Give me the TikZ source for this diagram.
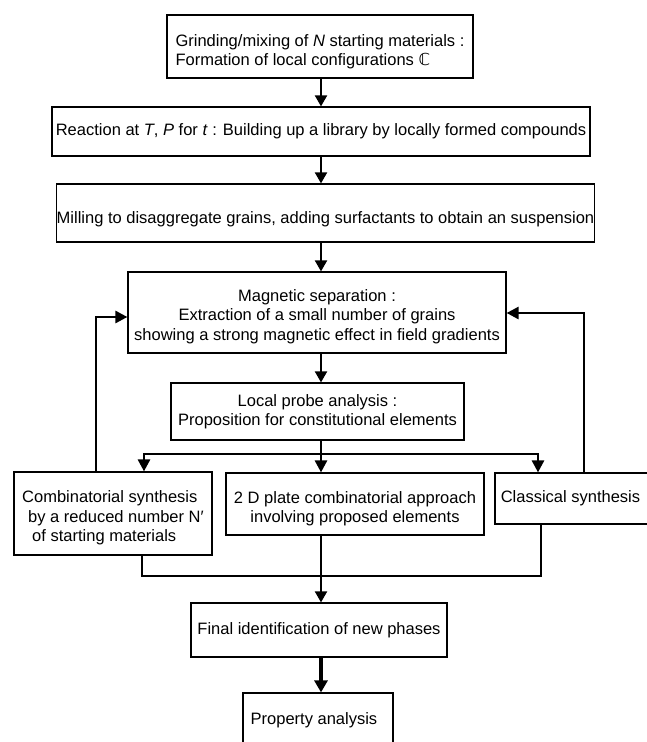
\documentclass[tikz,border=0pt]{standalone}
\usepackage{fontspec}
\setmainfont{Liberation Sans}
\newfontfamily\dejavu{DejaVu Sans}
\usetikzlibrary{arrows.meta}
\newcommand\dnc[2]{\raisebox{0pt}[\dimexpr\height+#1\relax][\depth]{\begin{tabular}{@{}c@{}}#2\end{tabular}}}
\newcommand\dnl[2]{\raisebox{0pt}[\dimexpr\height+#1\relax][\depth]{\begin{tabular}{@{}l@{}}#2\end{tabular}}}
\begin{document}
\begin{tikzpicture}[x=1pt,y=-1pt,
  box/.style={draw, line width=1.2pt, inner sep=0pt, font=\fontsize{16.5}{19.5}\selectfont},
  arr/.style={line width=2pt, -{Triangle[length=11pt,width=12pt]}},
  fat/.style={line width=2.6pt},
  fatarr/.style={line width=2.6pt, -{Triangle[length=12pt,width=12pt]}},
  bigarr/.style={line width=4pt, -{Triangle[length=12pt,width=13pt]}}]
\useasboundingbox[fill=white] (0,0) rectangle (646,742);
\coordinate (cx) at (321,0);
% boxes
\node[box, minimum width=306pt, minimum height=63pt] (b1) at (320,46.5)
  {\dnl{11pt}{Grinding/mixing of \textit{N} starting materials :\\Formation of local configurations {\dejavu ℂ}}};
\node[box, minimum width=538pt, minimum height=49pt] (b2) at (321,131.5)
  {Reaction at \textit{T}, \textit{P} for \textit{t} : Building up a library by locally formed compounds};
\node[box, minimum width=537pt, minimum height=58pt, text height=25pt] (b3) at (325.5,213)
  {Milling to disaggregate grains, adding surfactants to obtain an suspension};
\node[box, minimum width=378pt, minimum height=81pt] (b4) at (317,312.5)
  {\dnc{9pt}{Magnetic separation :\\Extraction of a small number of grains\\showing a strong magnetic effect in field gradients}};
\node[box, minimum width=293pt, minimum height=57pt, align=center] (b5) at (317.5,411.5)
  {Local probe analysis :\\Proposition for constitutional elements};
\node[box, minimum width=198pt, minimum height=83pt] (b6) at (113,513.5)
  {\dnl{10pt}{Combinatorial synthesis\\\hspace*{6pt}by a reduced number N′\\\hspace*{10pt}of starting materials}};
\node[box, minimum width=258pt, minimum height=62pt] (b7) at (355,504)
  {\dnc{10pt}{2 D plate combinatorial approach\\involving proposed elements}};
\node[box, minimum width=165pt, minimum height=51pt, align=left] (b8) at (577.5,498.5)
  {Classical synthesis\hspace*{14pt}};
\node[box, minimum width=256pt, minimum height=54pt] (b9) at (319,630)
  {Final identification of new phases};
\node[box, minimum width=150pt, minimum height=54pt, align=left] (b10) at (318,720)
  {Property analysis\hspace*{8pt}};
% main chain
\draw[arr] (b1.south -| cx) -- (b2.north -| cx);
\draw[arr] (b2.south -| cx) -- (b3.north -| cx);
\draw[arr] (b3.south -| cx) -- (b4.north -| cx);
\draw[arr] (b4.south -| cx) -- (b5.north -| cx);
% branch
\coordinate (br) at (321,454);
\coordinate (bl) at (144,454);
\coordinate (brr) at (538,454);
\draw[fat] (b5.south -| cx) -- (br);
\draw[fat, line cap=rect] (bl) -- (brr);
\draw[fatarr] (bl) -- (bl |- b6.north);
\draw[fatarr] (br) -- (br |- b7.north);
\draw[fatarr] (brr) -- (brr |- b8.north);
% feedback
\coordinate (fl) at (96,317);
\coordinate (fr) at (584,313);
\draw[fatarr] (fl |- b6.north) -- (fl) -- (b4.west |- fl);
\draw[fatarr] (fr |- b8.north) -- (fr) -- (b4.east |- fr);
% collect
\coordinate (cl) at (142,576);
\coordinate (cr) at (541,576);
\draw[fat] (cl |- b6.south) -- (cl) -- (cr) -- (cr |- b8.south);
\draw[arr] (cx |- b7.south) -- (cx |- b9.north);
\draw[bigarr] (b9.south -| cx) -- (b10.north -| cx);
\end{tikzpicture}
\end{document}
